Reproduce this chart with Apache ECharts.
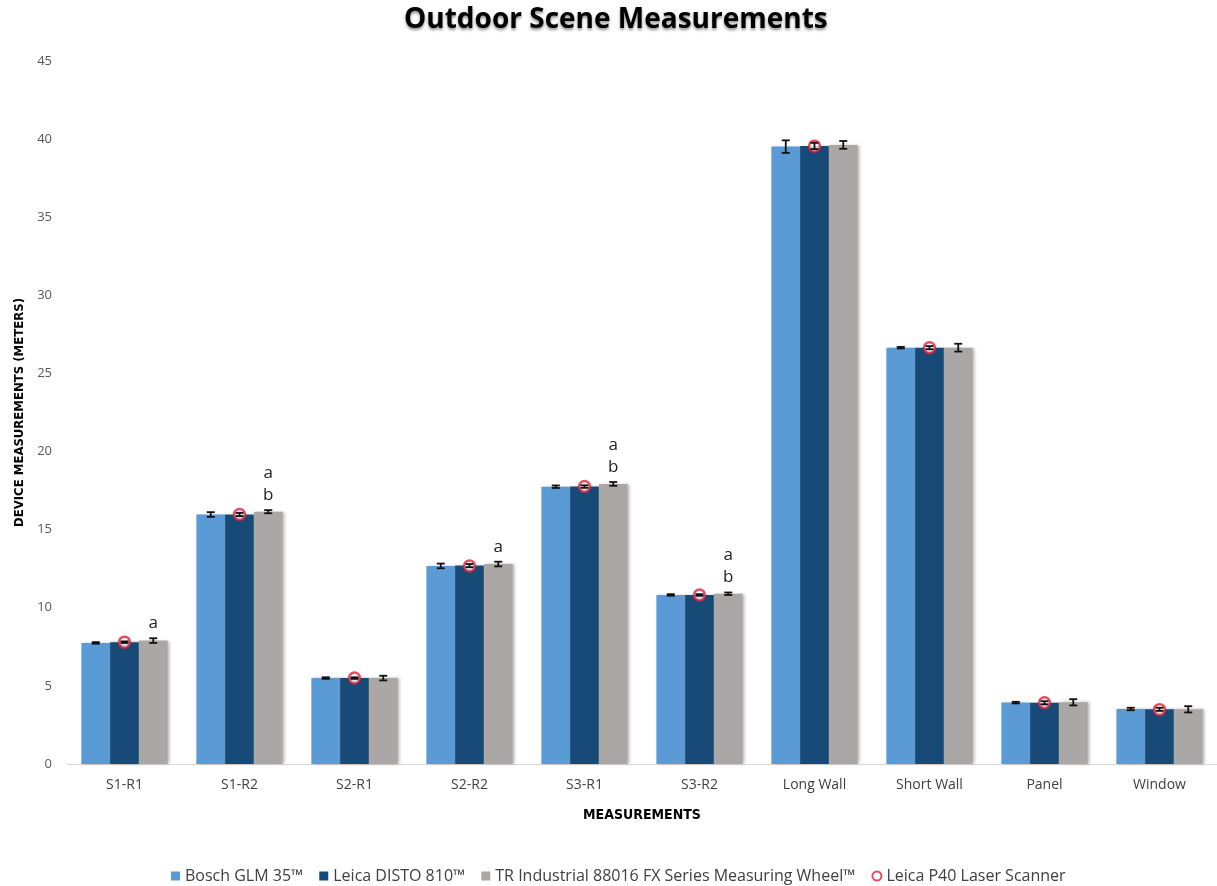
<!DOCTYPE html>
<html>
<head>
<meta charset="utf-8">
<title>Outdoor Scene Measurements</title>
<script src="https://cdn.jsdelivr.net/npm/echarts@6/dist/echarts.min.js"></script>
<style>
  html, body { margin: 0; padding: 0; background: #ffffff; }
  #chart { width: 1217px; height: 886px; }
</style>
</head>
<body>
<div id="chart"></div>
<script>
// Measured targets
const categories = ['S1-R1', 'S1-R2', 'S2-R1', 'S2-R2', 'S3-R1', 'S3-R2', 'Long Wall', 'Short Wall', 'Panel', 'Window'];

// Mean device readings (meters)
const bosch   = [7.75, 15.97, 5.50, 12.68, 17.75, 10.82, 39.52, 26.65, 3.93, 3.52];
const leica   = [7.80, 15.97, 5.50, 12.70, 17.76, 10.82, 39.56, 26.65, 3.92, 3.50];
const trWheel = [7.90, 16.15, 5.50, 12.80, 17.93, 10.90, 39.63, 26.65, 3.95, 3.50];

// Reference values from the laser scanner
const scanner = [7.80, 15.97, 5.50, 12.68, 17.76, 10.82, 39.55, 26.65, 3.92, 3.48];

// Standard deviations for the error bars
const boschErr   = [0.05, 0.15, 0.05, 0.15, 0.08, 0.05, 0.40, 0.05, 0.05, 0.08];
const leicaErr   = [0.05, 0.10, 0.05, 0.10, 0.08, 0.05, 0.20, 0.10, 0.10, 0.10];
const trWheelErr = [0.15, 0.10, 0.15, 0.15, 0.12, 0.08, 0.25, 0.25, 0.20, 0.20];

// Significance letters shown above the measuring wheel bars
const sigLetters = ['a', 'a\nb', '', 'a', 'a\nb', 'a\nb', '', '', '', ''];

// Axis ticks
const yMin = 0, yMax = 45, yStep = 5;

const seriesNames = ['Bosch GLM 35™', 'Leica DISTO 810™', 'TR Industrial 88016 FX Series Measuring Wheel™', 'Leica P40 Laser Scanner'];
const colors = ['#5b9bd5', '#174a76', '#aba7a7'];
const ringColor = '#e0203c';
const baseFont = "'Open Sans', 'DejaVu Sans', sans-serif";
const narrowFont = "'Liberation Sans Narrow', 'DejaVu Sans Condensed', 'Open Sans', sans-serif";

const barShadow = { shadowColor: 'rgba(0,0,0,0.28)', shadowBlur: 3, shadowOffsetX: 2, shadowOffsetY: 0 };

function barSeries(name, values, color, extra) {
  return Object.assign({
    name: name,
    type: 'bar',
    data: values,
    barGap: '0%',
    barCategoryGap: '25%',
    itemStyle: Object.assign({ color: color }, barShadow),
    emphasis: { disabled: true },
    z: 2
  }, extra || {});
}

// Error bars centred on each bar of a group (slot 0,1,2 of three adjacent bars)
function errorSeries(values, errs, slot) {
  return {
    type: 'custom',
    data: values.map((v, i) => [i, v, errs[i]]),
    encode: { x: 0, y: 1 },
    z: 5,
    silent: true,
    renderItem: function (params, api) {
      const idx = api.value(0);
      const v = api.value(1);
      const e = api.value(2);
      const band = api.size([1, 0])[0];
      const dx = (slot - 1) * band * 0.25;
      const top = api.coord([idx, v + e]);
      const bot = api.coord([idx, v - e]);
      const x = top[0] + dx;
      const cap = 4;
      const style = { stroke: '#111', lineWidth: 1.8, fill: null };
      return {
        type: 'group',
        children: [
          { type: 'line', shape: { x1: x, y1: top[1], x2: x, y2: bot[1] }, style: style },
          { type: 'line', shape: { x1: x - cap, y1: top[1], x2: x + cap, y2: top[1] }, style: style },
          { type: 'line', shape: { x1: x - cap, y1: bot[1], x2: x + cap, y2: bot[1] }, style: style }
        ]
      };
    }
  };
}

const chart = echarts.init(document.getElementById('chart'), null, { renderer: 'canvas' });

chart.setOption({
  backgroundColor: '#ffffff',
  animation: false,
  title: {
    text: 'Outdoor Scene Measurements',
    left: 404,
    top: 6,
    padding: 0,
    textStyle: {
      fontFamily: baseFont,
      fontWeight: 'bold',
      fontSize: 28,
      color: '#000000',
      textShadowColor: 'rgba(0,0,0,0.45)',
      textShadowBlur: 3,
      textShadowOffsetY: 2
    }
  },
  legend: {
    top: 868,
    left: 171,
    padding: 0,
    itemWidth: 9,
    itemHeight: 9,
    itemGap: 16,
    textStyle: { fontFamily: baseFont, fontSize: 16, color: '#404040' },
    data: [
      { name: seriesNames[0], icon: 'rect' },
      { name: seriesNames[1], icon: 'rect' },
      { name: seriesNames[2], icon: 'rect' },
      { name: seriesNames[3], icon: 'circle', itemStyle: { color: '#ffffff', borderColor: ringColor, borderWidth: 2 } }
    ]
  },
  grid: { left: 67, top: 61, width: 1154, height: 703, containLabel: false },
  xAxis: {
    type: 'category',
    data: categories,
    name: 'MEASUREMENTS',
    nameLocation: 'middle',
    nameGap: 44,
    nameTextStyle: { fontFamily: narrowFont, fontWeight: 'bold', fontSize: 14, color: '#000000' },
    axisLine: { show: true, lineStyle: { color: '#d9d9d9', width: 1 } },
    axisTick: { show: false },
    axisLabel: { fontFamily: baseFont, fontSize: 14, color: '#404040', margin: 14 },
    splitLine: { show: false }
  },
  yAxis: {
    type: 'value',
    min: yMin,
    max: yMax,
    interval: yStep,
    name: 'DEVICE MEASUREMENTS (METERS)',
    nameLocation: 'middle',
    nameGap: 40,
    nameRotate: 90,
    nameTextStyle: { fontFamily: narrowFont, fontWeight: 'bold', fontSize: 13, color: '#000000' },
    axisLine: { show: false },
    axisTick: { show: false },
    axisLabel: { fontFamily: baseFont, fontSize: 13, color: '#595959', margin: 15 },
    splitLine: { show: false }
  },
  series: [
    barSeries(seriesNames[0], bosch, colors[0]),
    barSeries(seriesNames[1], leica, colors[1]),
    barSeries(seriesNames[2], trWheel.map((v, i) => ({
      value: v,
      label: {
        show: sigLetters[i] !== '',
        position: 'top',
        distance: 6,
        formatter: sigLetters[i],
        fontFamily: baseFont,
        fontSize: 17,
        lineHeight: 22,
        color: '#222222'
      }
    })), colors[2]),
    {
      name: seriesNames[3],
      type: 'scatter',
      data: scanner,
      symbol: 'circle',
      symbolSize: 11,
      itemStyle: { color: '#ffffff', borderColor: ringColor, borderWidth: 2.5 },
      emphasis: { disabled: true },
      z: 4
    },
    errorSeries(bosch, boschErr, 0),
    errorSeries(leica, leicaErr, 1),
    errorSeries(trWheel, trWheelErr, 2)
  ]
});
</script>
</body>
</html>
